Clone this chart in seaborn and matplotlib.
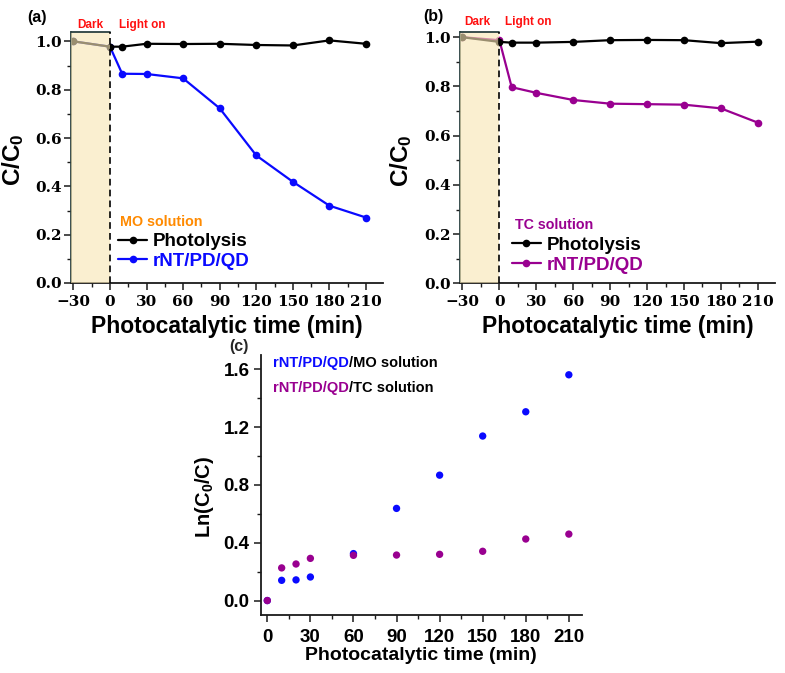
import pandas as pd
import seaborn as sns
import matplotlib.pyplot as plt
from matplotlib.ticker import MultipleLocator

sns.set_theme(style="ticks")
plt.rcParams['font.family'] = ['Liberation Sans', 'DejaVu Sans']
plt.rcParams['font.weight'] = 'bold'
plt.rcParams['axes.labelweight'] = 'bold'
plt.rcParams['mathtext.fontset'] = 'custom'
plt.rcParams['mathtext.rm'] = 'Liberation Sans:bold'
plt.rcParams['mathtext.it'] = 'Liberation Sans:bold'
plt.rcParams['mathtext.bf'] = 'Liberation Sans:bold'

# ==============================
# Data
# ==============================
time_ab = [-30, 0, 10, 30, 60, 90, 120, 150, 180, 210]
photolysis_mo = [1.0, 0.978, 0.978, 0.990, 0.989, 0.990, 0.985, 0.983, 1.004, 0.990]
rnt_mo = [1.0, 0.978, 0.866, 0.865, 0.847, 0.723, 0.528, 0.419, 0.320, 0.271]
photolysis_tc = [1.0, 0.981, 0.978, 0.978, 0.981, 0.988, 0.989, 0.988, 0.976, 0.982]
rnt_tc = [1.0, 0.988, 0.797, 0.774, 0.745, 0.730, 0.728, 0.726, 0.711, 0.653]

time_c = [0, 10, 20, 30, 60, 90, 120, 150, 180, 210]
ln_mo = [0.0, 0.140, 0.143, 0.163, 0.325, 0.638, 0.868, 1.139, 1.307, 1.563]
ln_tc = [0.0, 0.226, 0.253, 0.292, 0.313, 0.315, 0.320, 0.341, 0.426, 0.460]

xticks_ab = [-30, 0, 30, 60, 90, 120, 150, 180, 210]
yticks_ab = [0.0, 0.2, 0.4, 0.6, 0.8, 1.0]
xticks_c = [0, 30, 60, 90, 120, 150, 180, 210]
yticks_c = [0.0, 0.4, 0.8, 1.2, 1.6]

BLUE = '#0a0aff'
PURPLE = '#990090'
ORANGE = '#ff8a00'
RED = '#ff1010'
EDGE = '#2a4040'

fig = plt.figure(figsize=(7.85, 6.73), dpi=100)


def style_axes(ax, tick_font, tick_size):
    sns.despine(ax=ax)
    for s in ('left', 'bottom'):
        ax.spines[s].set_linewidth(1.3)
        ax.spines[s].set_color('#1a1a1a')
    ax.tick_params(which='major', direction='out', length=5, width=1.1,
                   colors='#1a1a1a', labelsize=tick_size)
    ax.tick_params(which='minor', direction='out', length=2.8, width=1.0,
                   colors='#1a1a1a')
    ax.tick_params(axis='x', pad=3.5)
    ax.tick_params(axis='y', pad=1.5)
    for lbl in ax.get_xticklabels() + ax.get_yticklabels():
        lbl.set_fontfamily(tick_font)
        lbl.set_fontweight('bold')
        lbl.set_color('black')


def kinetics_panel(rect, phot, rnt, color, solution, sol_xy, leg_xy,
                   ytop, tag, tag_xy, dark_x, light_x, top_text_y):
    ax = fig.add_axes(rect)
    df = pd.DataFrame({'t': time_ab, 'Photolysis': phot, 'rNT/PD/QD': rnt})
    sns.lineplot(data=df, x='t', y='rNT/PD/QD', ax=ax, color=color,
                 marker='o', markersize=5.5, markeredgewidth=0, lw=1.6,
                 zorder=2)
    sns.lineplot(data=df, x='t', y='Photolysis', ax=ax, color='black',
                 marker='o', markersize=5.5, markeredgewidth=0, lw=1.6,
                 zorder=2.5)
    h_rnt, h_phot = ax.get_lines()[0], ax.get_lines()[1]

    # dark period box
    ax.axvspan(-32, 0, facecolor='#f8e6b4', alpha=0.62, lw=0, zorder=3)
    ax.plot([-32, 0], [ytop, ytop], color=EDGE, lw=1.3, clip_on=False, zorder=4)
    ax.plot([0, 0], [0, ytop], color='black', lw=1.2, ls=(0, (4, 2.5)),
            clip_on=False, zorder=4)

    ax.set_xlim(-32, 224)
    ax.set_ylim(0, ytop)
    ax.set_xticks(xticks_ab, [f'{v}'.replace('-', '\u2212') for v in xticks_ab])
    ax.set_yticks(yticks_ab, [f'{v:.1f}' for v in yticks_ab])
    ax.xaxis.set_minor_locator(MultipleLocator(15))
    ax.yaxis.set_minor_locator(MultipleLocator(0.1))
    style_axes(ax, 'DejaVu Serif', 11)
    ax.spines['left'].set_color(EDGE)

    ax.set_xlabel('Photocatalytic time (min)', fontsize=16.5, fontweight='bold',
                  color='black', va='top')
    ax.xaxis.set_label_coords(0.5, -0.127)
    ax.set_ylabel('C/C$_0$', fontsize=17.5, fontweight='bold', color='black')
    ax.yaxis.set_label_coords(-0.145, 0.49)

    leg = ax.legend([h_phot, h_rnt], ['Photolysis', 'rNT/PD/QD'],
                    loc='upper left', bbox_to_anchor=leg_xy, frameon=False,
                    prop={'family': 'Liberation Sans', 'weight': 'bold', 'size': 13.5},
                    handlelength=1.55, handletextpad=0.3, labelspacing=0.15,
                    borderpad=0, borderaxespad=0, labelcolor='linecolor')
    leg.set_zorder(5)
    ax.text(sol_xy[0], sol_xy[1], solution, transform=ax.transAxes,
            color=color if solution.startswith('TC') else ORANGE,
            fontsize=10.3, fontweight='bold', ha='left', va='center')
    ax.text(dark_x, top_text_y, 'Dark', transform=ax.transAxes, color=RED,
            fontsize=8.5, fontweight='bold', ha='center', va='center')
    ax.text(light_x, top_text_y, 'Light on', transform=ax.transAxes, color=RED,
            fontsize=8.5, fontweight='bold', ha='center', va='center')
    ax.text(tag_xy[0], tag_xy[1], tag, transform=ax.transAxes, color='black',
            fontsize=11.5, fontweight='bold', ha='center', va='center')
    return ax


kinetics_panel([0.0904, 0.5795, 0.3975, 0.3734], photolysis_mo, rnt_mo, BLUE,
               'MO solution', (0.157, 0.243), (0.151, 0.199), 1.04,
               '(a)', (-0.109, 1.058), 0.061, 0.228, 1.028)
kinetics_panel([0.586, 0.579, 0.4013, 0.373], photolysis_tc, rnt_tc, PURPLE,
               'TC solution', (0.175, 0.232), (0.164, 0.186), 1.02,
               '(b)', (-0.086, 1.061), 0.056, 0.218, 1.041)

# ==============================
# (c) pseudo-first-order plot
# ==============================
axc = fig.add_axes([0.3321, 0.0862, 0.409, 0.3863])
dfc = pd.DataFrame({'t': time_c + time_c, 'ln': ln_mo + ln_tc,
                    'series': ['MO'] * len(time_c) + ['TC'] * len(time_c)})
sns.scatterplot(data=dfc, x='t', y='ln', hue='series',
                palette={'MO': BLUE, 'TC': PURPLE}, s=28, linewidth=0,
                legend=False, ax=axc, zorder=3)
axc.set_xlim(-4.6, 219)
axc.set_ylim(-0.1, 1.7)
axc.set_xticks(xticks_c, [str(v) for v in xticks_c])
axc.set_yticks(yticks_c, [f'{v:.1f}' for v in yticks_c])
axc.xaxis.set_minor_locator(MultipleLocator(15))
axc.yaxis.set_minor_locator(MultipleLocator(0.2))
style_axes(axc, 'Liberation Sans', 13.5)
axc.tick_params(axis='y', pad=3)
axc.tick_params(axis='x', pad=5)
axc.set_xlabel('Photocatalytic time (min)', fontsize=14, fontweight='bold',
               color='black', va='top')
axc.xaxis.set_label_coords(0.5, -0.125)
axc.set_ylabel('Ln(C$_0$/C)', fontsize=14.5, fontweight='bold', color='black')
axc.yaxis.set_label_coords(-0.14, 0.454)
axc.text(-0.068, 1.031, '(c)', transform=axc.transAxes, fontsize=11.5,
         fontweight='bold', ha='center', va='center')

for yy, col, rest in [(0.969, BLUE, '/MO solution'), (0.873, PURPLE, '/TC solution')]:
    t1 = axc.text(0.038, yy, 'rNT/PD/QD', transform=axc.transAxes, color=col,
                  fontsize=10.5, fontweight='bold', ha='left', va='center')
    axc.annotate(rest, xy=(1, 0), xycoords=t1, color='black', fontsize=10.5,
                 fontweight='bold', ha='left', va='bottom')

fig.savefig('out.png', dpi=100)
